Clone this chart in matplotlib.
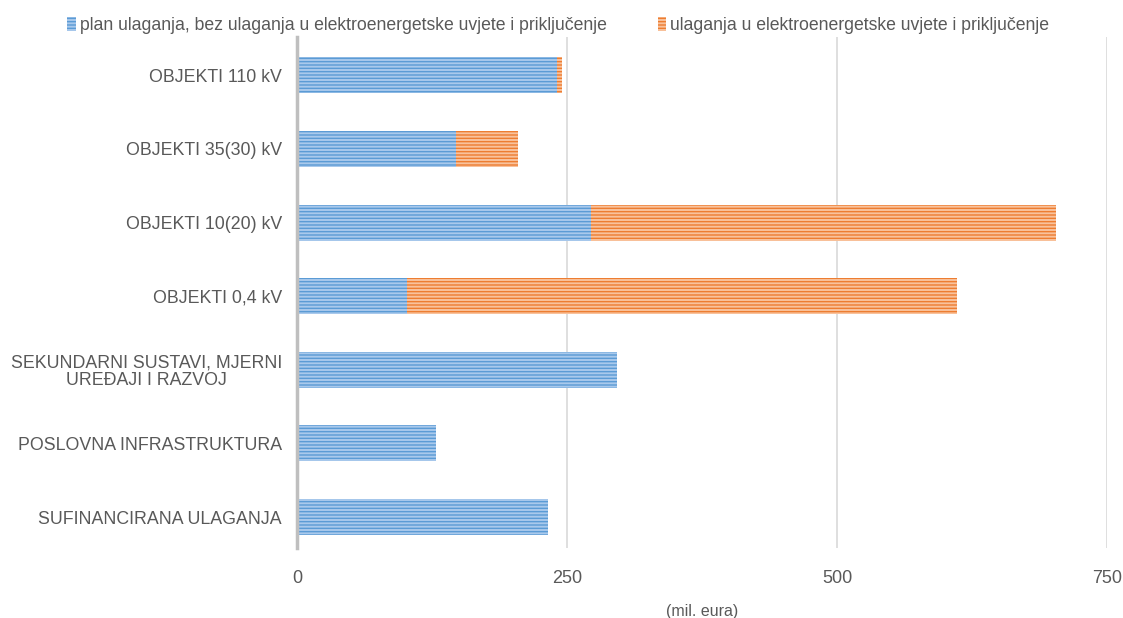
import numpy as np
import matplotlib.pyplot as plt

plt.rcParams['font.family'] = ['Liberation Sans', 'DejaVu Sans']
plt.rcParams['hatch.linewidth'] = 1.0

# categories listed bottom to top
categories = ["SUFINANCIRANA ULAGANJA", "POSLOVNA INFRASTRUKTURA",
              "SEKUNDARNI SUSTAVI, MJERNI\nUREĐAJI I RAZVOJ", "OBJEKTI 0,4 kV",
              "OBJEKTI 10(20) kV", "OBJEKTI 35(30) kV", "OBJEKTI 110 kV"]
plan = [232, 129, 296, 102, 272, 147, 241]
prikljucenje = [0, 0, 0, 509, 431, 58, 4]

label_plan = "plan ulaganja, bez ulaganja u elektroenergetske uvjete i priključenje"
label_prik = "ulaganja u elektroenergetske uvjete i priključenje"

fig = plt.figure(figsize=(11.23, 6.18), dpi=100)
ax = fig.add_axes([0.2645, 0.1133, 0.7213, 0.8268])

y = np.arange(len(categories))
h = 0.49
ax.barh(y, plan, height=h, color='#A9C9EC', edgecolor='#5B9BD5', hatch='-----',
        linewidth=0, label=label_plan, zorder=3)
ax.barh(y, prikljucenje, left=plan, height=h, color='#F9C29C', edgecolor='#ED7D31',
        hatch='-----', linewidth=0, label=label_prik, zorder=3)

ax.set_xlim(0, 750)
ax.set_ylim(-0.42, 6.52)
ax.set_xticks([0, 250, 500, 750])
ax.set_yticks(y)
ax.set_yticklabels(categories, fontsize=12.8, linespacing=1.0)
ax.tick_params(axis='both', length=0, colors='#595959')
ax.tick_params(axis='x', pad=16, labelsize=13)
ax.tick_params(axis='y', pad=11)
for lab in ax.get_yticklabels():
    lab.set_horizontalalignment('right')
    lab.set_multialignment('center')

ax.xaxis.grid(True, color='#D9D9D9', linewidth=1.2, zorder=0)
for s in ['top', 'right', 'bottom']:
    ax.spines[s].set_visible(False)
ax.spines['left'].set_color('#BFBFBF')
ax.spines['left'].set_linewidth(2.5)
ax.spines['left'].set_zorder(4)

ax.set_xlabel("(mil. eura)", fontsize=11.5, color='#595959', labelpad=12)

fig.legend(loc='upper center', bbox_to_anchor=(0.497, 0.998), ncol=2, frameon=False,
           fontsize=12.7, labelcolor='#595959', handlelength=0.5, handleheight=0.8,
           handletextpad=0.2, columnspacing=2.9)

fig.savefig("out.png", dpi=100)
